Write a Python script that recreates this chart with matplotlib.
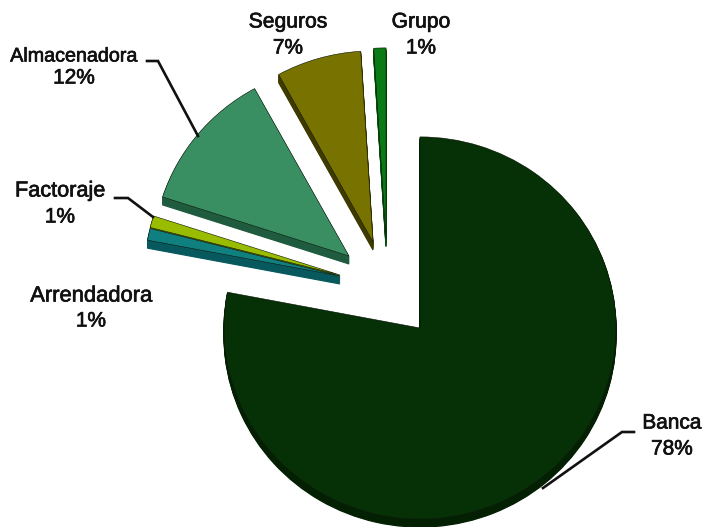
import matplotlib
matplotlib.use("Agg")
import matplotlib.pyplot as plt
import matplotlib.patheffects as pe

# Slice names and shares, in clockwise order from the top
names = ["Banca", "Arrendadora", "Factoraje", "Almacenadora", "Seguros", "Grupo"]
shares = [78, 1, 1, 12, 7, 1]
percents = ["78%", "1%", "1%", "12%", "7%", "1%"]
top_colors = ["#063006", "#0F7F80", "#99BB00", "#3A8F62", "#787200", "#0A7A14"]
side_colors = ["#032003", "#07595E", "#5A6E00", "#1F5C3F", "#3F3B00", "#064A0C"]

# Where each slice's apex sits in the picture (pixels), replacing a plain explode
apex_x = [420, 340, 340, 349, 373, 386]
apex_y = [328, 276, 275, 256, 242, 239]

plt.rcParams["font.family"] = ["Liberation Sans", "DejaVu Sans"]

W, H = 707, 527
RADIUS = 196
SQUASH = 0.975  # the pie is a little flatter than a circle
DEPTH = 8


def to_y(py):
    return (H - py) / SQUASH


fig = plt.figure(figsize=(W / 100, H / 100), dpi=100)
ax = fig.add_axes([0, 0, 1, 1])

# back to front, so the lower slices cover the sides of the upper ones
draw_order = [5, 4, 3, 2, 1, 0]


def draw_layer(colors, shift, edge, lw, z):
    wedges, _ = ax.pie(shares, colors=colors, startangle=90, counterclock=False, radius=RADIUS,
                       wedgeprops=dict(linewidth=lw))
    for rank, i in enumerate(draw_order):
        wedges[i].set_center((apex_x[i], to_y(apex_y[i] + shift)))
        wedges[i].set_zorder(z + rank * 100)
        wedges[i].set_edgecolor(edge if edge else colors[i])


# side of each slice: the same wedge stacked down, then the top face
for d in range(DEPTH, 0, -1):
    draw_layer(side_colors, d, None, 0.8, 100 - d)
draw_layer(top_colors, 0, "#10180c", 0.4, 100)

ax.set_aspect("auto")
ax.set_xlim(0, W)
ax.set_ylim(0, H / SQUASH)
ax.axis("off")

# leader lines
leaders = [
    ([147, 158, 198], [61, 61, 136]),
    ([115, 128, 153], [198, 198, 217]),
    ([634, 622, 543], [432, 432, 488]),
]
for xs, ys in leaders:
    ax.plot(xs, [to_y(v) for v in ys], color="#111111", lw=1.9, zorder=2000, solid_joinstyle="miter")

# labels: centre x, name y, percent y (same order as names)
label_x = [672, 91, 60, 74, 288, 421]
name_y = [423, 296, 191, 56, 22, 22]
pct_y = [449, 321, 217, 78, 48, 48]
name_size = [15, 15.8, 15.6, 14.2, 15.2, 15.2]
for i, name in enumerate(names):
    for txt, y, size in ((name, name_y[i], name_size[i]), (percents[i], pct_y[i], 15)):
        t = ax.text(label_x[i], to_y(y), txt, ha="center", va="center", fontsize=size,
                    color="#111111", zorder=2100)
        t.set_path_effects([pe.withStroke(linewidth=0.5, foreground="#111111")])

fig.savefig("out.png", dpi=100, facecolor="white")
plt.close(fig)
